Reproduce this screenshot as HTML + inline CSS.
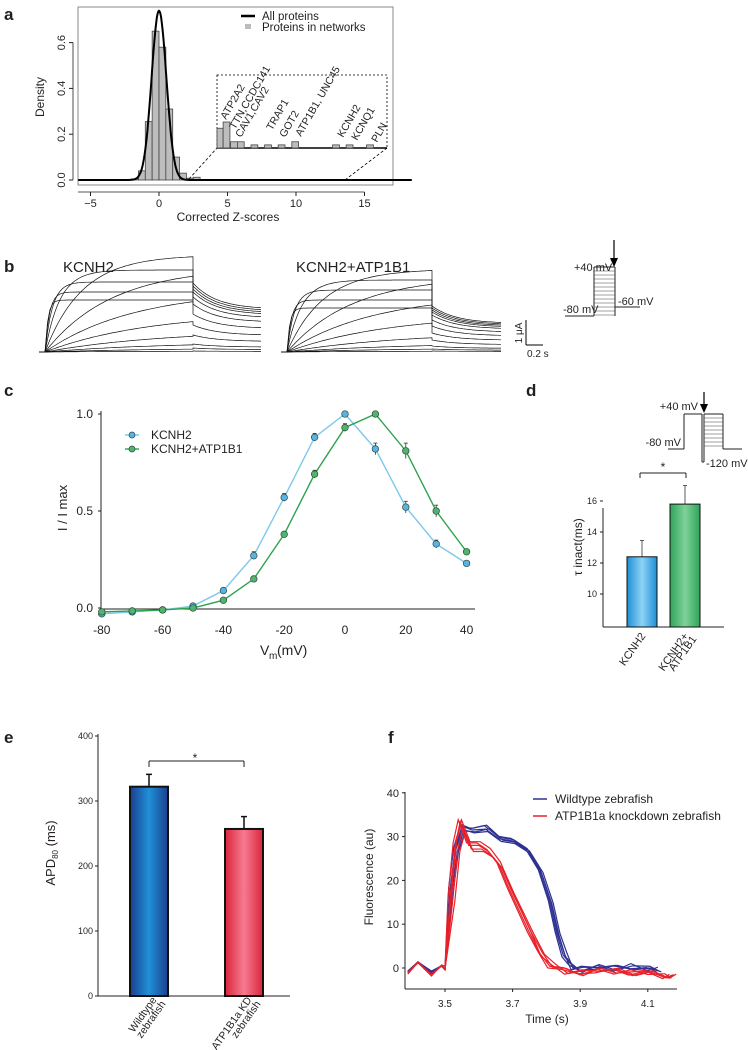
<!DOCTYPE html>
<html><head><meta charset="utf-8">
<style>
html,body{margin:0;padding:0;background:#fff;}
svg{display:block;}
text{font-family:"Liberation Sans Narrow","Liberation Sans",sans-serif;fill:#231f20;}
.lbl{font-family:"Liberation Sans",sans-serif;font-weight:bold;font-size:17px;}
</style></head>
<body>
<svg id="fig" width="748" height="1050" viewBox="0 0 748 1050" xmlns="http://www.w3.org/2000/svg">
<defs>
<linearGradient id="gBlueD" x1="0" x2="1"><stop offset="0" stop-color="#1f8fd6"/><stop offset="0.5" stop-color="#8dd3f5"/><stop offset="1" stop-color="#1f8fd6"/></linearGradient>
<linearGradient id="gGreenD" x1="0" x2="1"><stop offset="0" stop-color="#2fa55a"/><stop offset="0.5" stop-color="#7fd19a"/><stop offset="1" stop-color="#2fa55a"/></linearGradient>
<linearGradient id="gBlueE" x1="0" x2="1"><stop offset="0" stop-color="#1b3f8f"/><stop offset="0.5" stop-color="#1f90d6"/><stop offset="1" stop-color="#1b3f8f"/></linearGradient>
<linearGradient id="gRedE" x1="0" x2="1"><stop offset="0" stop-color="#d8263a"/><stop offset="0.5" stop-color="#f77a90"/><stop offset="1" stop-color="#d8263a"/></linearGradient>
</defs>
<text class="lbl" x="4" y="20">a</text>
<text class="lbl" x="4" y="272">b</text>
<text class="lbl" x="4" y="396">c</text>
<text class="lbl" x="526" y="396">d</text>
<text class="lbl" x="4" y="743">e</text>
<text class="lbl" x="388" y="743">f</text>
<g id="pa"></g>
<g id="pb"></g>
<g id="pc"></g>
<g id="pd"></g>
<g id="pe"></g>
<g id="pf"></g>
</svg>
<script>
// ---------- data ----------
const histBinStart = [-2,-1.5,-1,-0.5,0,0.5,1,1.5,2,2.5];
const histDensity = [0.005,0.04,0.255,0.65,0.58,0.31,0.10,0.03,0.008,0.012];
const curveSd = 0.54;
const insetBinStart = [4.25,4.7,5.25,5.75,6.75,7.75,8.75,9.75,12.75,13.75,15.25];
const insetDensity = [0.19,0.25,0.06,0.06,0.03,0.03,0.03,0.06,0.03,0.03,0.03];
const insetLabels = ["ATP2A2","TTN,CCDC141","CAV1,CAV2","TRAP1","GOT2","ATP1B1, UNC45","KCNH2","KCNQ1","PLN"];
const aXTicks = [-5,0,5,10,15];
const aYTicks = [0,0.2,0.4,0.6];

const stepAmpK = [52,60,70,82,97,85,62,40,22,10,4,1];
const stepAmpA = [44,52,62,72,83,76,58,38,20,9,4,1];
const stepTau = [0.02,0.03,0.05,0.1,0.25,0.45,0.6,0.7,0.8,0.8,0.8,0.8];
const tailK = [69,66,63,60,55,48,38,27,17,8,4,1];
const tailA = [46,44,42,40,37,32,26,19,12,6,3,1];

const vm = [-80,-70,-60,-50,-40,-30,-20,-10,0,10,20,30,40];
const iKCNH2 = [-0.03,-0.02,-0.01,0.01,0.09,0.27,0.57,0.88,1.0,0.82,0.52,0.33,0.23];
const eKCNH2 = [0,0,0,0.01,0.01,0.02,0.02,0.02,0,0.03,0.03,0.02,0.01];
const iATP = [-0.02,-0.015,-0.01,0.0,0.04,0.15,0.38,0.69,0.93,1.0,0.81,0.50,0.29];
const eATP = [0,0,0,0,0,0.01,0.01,0.02,0.02,0,0.04,0.03,0.01];
const cXTicks = [-80,-60,-40,-20,0,20,40];
const cYTicks = [0,0.5,1.0];

const dGroups = ["KCNH2","KCNH2+ ATP1B1"];
const dValues = [12.4,15.8];
const dErrors = [1.05,1.2];
const dYTicks = [10,12,14,16];

const eGroups = ["Wildtype zebrafish","ATP1B1a KD zebrafish"];
const eValues = [322,257];
const eErrors = [19,19];
const eYTicks = [0,100,200,300,400];

const fXTicks = [3.5,3.7,3.9,4.1];
const fYTicks = [0,10,20,30,40];
const wtTime = [3.39,3.42,3.46,3.49,3.50,3.515,3.53,3.55,3.58,3.62,3.66,3.70,3.74,3.78,3.81,3.83,3.85,3.87,3.90,3.95,4.00,4.05,4.10,4.13];
const wtFluo = [-0.5,0.5,-0.3,0.2,0.5,18,27,31.5,32,31.5,29.5,29,27,22,15,8,3,0.5,-0.2,0.3,-0.3,0.2,-0.2,0];
const kdTime = [3.39,3.42,3.46,3.49,3.50,3.515,3.53,3.545,3.57,3.60,3.63,3.66,3.69,3.72,3.75,3.78,3.81,3.85,3.90,3.95,4.00,4.05,4.10,4.15,4.17];
const kdFluo = [-0.8,0.5,-1,0.3,0.5,16,28,32.5,28,28,26.5,23.5,18,13,8,3,0.5,-0.5,-1,-0.5,-1,-1.2,-1,-1.5,-2];
const wtShift = [0,0.006,-0.004,0.01,0.003];
const wtGain = [1,0.98,1.02,0.99,1.01];
const kdShift = [0,0.008,-0.006,0.014,0.004];
const kdGain = [1,0.97,1.02,0.95,1.03];
const wiggle = [0.6,-0.8,0.4,-0.3,0.9,-0.6,0.2,-0.9,0.5,-0.2,0.7,-0.5,0.3,-0.7,0.8,-0.4,0.1,-0.6,0.6,-0.3,0.4,-0.8,0.5,-0.2,0.3];

// ---------- helpers ----------
const NS="http://www.w3.org/2000/svg";
function mk(parent,tag,attrs,txt){const e=document.createElementNS(NS,tag);for(const k in attrs)e.setAttribute(k,attrs[k]);if(txt!==undefined)e.textContent=txt;parent.appendChild(e);return e;}
function line(p,x1,y1,x2,y2,st,w,dash){const e=mk(p,'line',{x1,y1,x2,y2,stroke:st||'#231f20','stroke-width':w||1});if(dash)e.setAttribute('stroke-dasharray',dash);return e;}

// ---------- panel a ----------
(function(){
const g=document.getElementById('pa');
const X=z=>159+z*13.7, Y=d=>180-d*229;
mk(g,'rect',{x:78,y:7,width:315,height:178,fill:'none',stroke:'#888','stroke-width':1});
for(let i=0;i<histBinStart.length;i++){
 const r=mk(g,'rect',{x:X(histBinStart[i]),y:Y(histDensity[i]),width:13.7*0.5,height:180-Y(histDensity[i]),fill:'#bdbdbd',stroke:'#444','stroke-width':0.8});
 
 
}
let d='';
for(let z=-5.9;z<=18.5;z+=0.05){const v=Math.exp(-z*z/(2*curveSd*curveSd))/(curveSd*Math.sqrt(2*Math.PI));d+=(d?'L':'M')+X(z).toFixed(1)+','+Y(v).toFixed(1);}
const c=mk(g,'path',{d,fill:'none',stroke:'#000','stroke-width':2});


// axes
line(g,78,192,X(15),192,'#231f20',0.8);
aXTicks.forEach(t=>{line(g,X(t),192,X(t),196);const e=mk(g,'text',{x:X(t),y:207,'font-size':11,'text-anchor':'middle'},String(t).replace('-','\u2212'));});
line(g,73,Y(0),73,Y(0.6),'#231f20',0.8);
aYTicks.forEach(t=>{line(g,69,Y(t),73,Y(t));const e=mk(g,'text',{x:0,y:0,'font-size':11,'text-anchor':'middle',transform:`translate(65,${Y(t)}) rotate(-90)`},t.toFixed(1));});
let e=mk(g,'text',{x:0,y:0,'font-size':12,'text-anchor':'middle',transform:'translate(44,97) rotate(-90)'},'Density');

e=mk(g,'text',{x:228,y:221,'font-size':12,'text-anchor':'middle'},'Corrected Z-scores');

// legend
line(g,241,16,255,16,'#000',2.5);
mk(g,'rect',{x:245,y:24,width:6,height:5,fill:'#bdbdbd'});
e=mk(g,'text',{x:262,y:20,'font-size':11.5},'All proteins');
e=mk(g,'text',{x:262,y:31,'font-size':11.5},'Proteins in networks');
// inset
mk(g,'rect',{x:217,y:75,width:170,height:73,fill:'#fff',stroke:'#000','stroke-width':0.8,'stroke-dasharray':'2,2'});
line(g,189,179,217,148,'#000',0.8,'3,2');
line(g,345,180,387,148,'#000',0.8,'3,2');
const IX=z=>217+(z-4.25)*13.6, IY=dd=>148-dd*104;
line(g,217,148,387,148,'#000',1.6);
for(let i=0;i<insetBinStart.length;i++){
 const w=(i===0)?insetBinStart[1]-insetBinStart[0]:0.5;
 const r=mk(g,'rect',{x:IX(insetBinStart[i]),y:IY(insetDensity[i]),width:w*13.6,height:148-IY(insetDensity[i]),fill:'#bdbdbd',stroke:'#444','stroke-width':0.8});
 
 
}
const lp=[[226,120],[235,130],[241,138],[272,131],[285,138],[301,137],[343,138],[357,141],[377,143]];
insetLabels.forEach((s,i)=>{const t=mk(g,'text',{x:0,y:0,'font-size':10.5,transform:`translate(${lp[i][0]},${lp[i][1]}) rotate(-60)`},s);});
})();

// ---------- panel b ----------
(function(){
const g=document.getElementById('pb');
function traces(x0,xs,x1,amp,tail,label,lx){
 const base=352;
 for(let i=0;i<amp.length;i++){
  let d=`M${x0-6},${base}L${x0},${base}`;
  const L=xs-x0;
  for(let k=0;k<=60;k++){const t=k/60;const v=amp[i]*(1-Math.exp(-t/stepTau[i]));d+=`L${(x0+t*L).toFixed(1)},${(base-v).toFixed(1)}`;}
  const R=x1-xs;
  for(let k=0;k<=40;k++){const t=k/40;const v=tail[i]*(0.62+0.38*Math.exp(-t/0.35));d+=`L${(xs+t*R).toFixed(1)},${(base-v).toFixed(1)}`;}
  const p=mk(g,'path',{d,fill:'none',stroke:'#111','stroke-width':0.7});
  
  
 }
 const t=mk(g,'text',{x:lx,y:272,'font-size':15},label);
 
}
traces(45,193,261,stepAmpK,tailK,'KCNH2',63);
traces(287,432,501,stepAmpA,tailA,'KCNH2+ATP1B1',296);
line(g,526,320,526,345,'#000',1);line(g,526,345,543,345,'#000',1);
let e=mk(g,'text',{x:0,y:0,'font-size':10,'text-anchor':'middle',transform:'translate(522,333) rotate(-90)'},'1 μA');
e=mk(g,'text',{x:527,y:357,'font-size':10},'0.2 s');
// protocol
line(g,565,316,594,316);line(g,594,267,594,316);line(g,615,267,615,316);line(g,594,267,615,267);
for(let y=271;y<316;y+=4)line(g,594,y,615,y,'#444',0.6);
line(g,615,307,640,307);
line(g,614,240,614,262,'#000',1.2);mk(g,'path',{d:'M610,258L618,258L614,267Z',fill:'#000'});
e=mk(g,'text',{x:574,y:271,'font-size':11},'+40 mV');
e=mk(g,'text',{x:563,y:313,'font-size':11},'-80 mV');
e=mk(g,'text',{x:618,y:305,'font-size':11},'-60 mV');
})();

// ---------- panel c ----------
(function(){
const g=document.getElementById('pc');
const X=v=>345+v*3.04, Y=i=>608-i*194;
line(g,101,411,101,609,'#231f20',1);line(g,101,609,475,609,'#231f20',1);
cXTicks.forEach(t=>{const e=mk(g,'text',{x:X(t),y:634,'font-size':12,'text-anchor':'middle'},String(t));});
cYTicks.forEach(t=>{line(g,98,Y(t),101,Y(t));const e=mk(g,'text',{x:93,y:Y(t)+4,'font-size':12,'text-anchor':'end'},t.toFixed(1));});
let e=mk(g,'text',{x:0,y:0,'font-size':13,'text-anchor':'middle',transform:'translate(67,508) rotate(-90)'},'I / I max');
e=mk(g,'text',{x:260,y:655,'font-size':14},'V');
mk(g,'text',{x:269,y:659,'font-size':10},'m');mk(g,'text',{x:277,y:655,'font-size':14},'(mV)');
function series(vals,errs,color,fill,name){
 const p=mk(g,'polyline',{points:vals.map((v,i)=>X(vm[i])+','+Y(v)).join(' '),fill:'none',stroke:color,'stroke-width':1.4});
 
 vals.forEach((v,i)=>{
  if(errs[i]>0){line(g,X(vm[i]),Y(v+errs[i]),X(vm[i]),Y(v-errs[i]),'#333',0.8);line(g,X(vm[i])-2,Y(v+errs[i]),X(vm[i])+2,Y(v+errs[i]),'#333',0.8);}
  const c=mk(g,'circle',{cx:X(vm[i]),cy:Y(v),r:3.3,fill:fill,stroke:'#2b4a3a','stroke-width':0.7});
  
 });
}
series(iKCNH2,eKCNH2,'#7cc8ec','#56b4e6','kcnh2');
series(iATP,eATP,'#2ea24f','#4fb56e','kcnh2-atp1b1');
line(g,125,435,139,435,'#7cc8ec',1.4);mk(g,'circle',{cx:132,cy:435,r:3,fill:'#56b4e6',stroke:'#2b4a3a','stroke-width':0.7});
line(g,125,449,139,449,'#2ea24f',1.4);mk(g,'circle',{cx:132,cy:449,r:3,fill:'#4fb56e',stroke:'#2b4a3a','stroke-width':0.7});
e=mk(g,'text',{x:151,y:439,'font-size':12},'KCNH2');
e=mk(g,'text',{x:151,y:453,'font-size':12},'KCNH2+ATP1B1');
})();

// ---------- panel d ----------
(function(){
const g=document.getElementById('pd');
const Y=v=>501-(v-16)*15.5;
const bx=[627,670], bw=30, fills=['url(#gBlueD)','url(#gGreenD)'];
line(g,603,508,603,627);line(g,603,627,724,627);
dYTicks.forEach(t=>{line(g,600,Y(t),603,Y(t));const e=mk(g,'text',{x:597,y:Y(t)+3,'font-size':9,'text-anchor':'end'},String(t));});
dValues.forEach((v,i)=>{
 line(g,bx[i]+bw/2,Y(v),bx[i]+bw/2,Y(v+dErrors[i]),'#333',0.8);line(g,bx[i]+bw/2-2,Y(v+dErrors[i]),bx[i]+bw/2+2,Y(v+dErrors[i]),'#333',0.8);
 const r=mk(g,'rect',{x:bx[i],y:Y(v),width:bw,height:627-Y(v),fill:fills[i],stroke:'#111','stroke-width':1});
 
 const parts=dGroups[i].split(' ');
 parts.forEach((s,j)=>{const t=mk(g,'text',{x:0,y:0,'font-size':11,'text-anchor':'end',transform:`translate(${bx[i]+bw/2+4+j*8},${636+j*3}) rotate(-55)`},s);});
});
line(g,640,473,686,473);line(g,640,473,640,478);line(g,686,473,686,478);
mk(g,'text',{x:663,y:471,'font-size':12,'text-anchor':'middle'},'*');
let e=mk(g,'text',{x:0,y:0,'font-size':12,'text-anchor':'middle',transform:'translate(582,547) rotate(-90)'},'τ inact(ms)');
// protocol
line(g,668,449,684,449);line(g,684,449,684,414);line(g,684,414,702,414);line(g,702,414,702,462);line(g,702,462,704,462);
line(g,704,414,704,462);line(g,704,414,723,414);line(g,723,414,723,449);line(g,723,449,742,449);
for(let y=418;y<449;y+=4)line(g,704,y,723,y,'#444',0.6);
line(g,704,392,704,406,'#000',1.2);mk(g,'path',{d:'M700,404L708,404L704,413Z',fill:'#000'});
e=mk(g,'text',{x:698,y:410,'font-size':11,'text-anchor':'end'},'+40 mV');
e=mk(g,'text',{x:681,y:446,'font-size':11,'text-anchor':'end'},'-80 mV');
e=mk(g,'text',{x:706,y:467,'font-size':11},'-120 mV');
})();

// ---------- panel e ----------
(function(){
const g=document.getElementById('pe');
const Y=v=>996-v*0.65;
const bx=[130,225], bw=38, fills=['url(#gBlueE)','url(#gRedE)'];
line(g,98,734,98,996);line(g,98,996,290,996);
eYTicks.forEach(t=>{line(g,95,Y(t),98,Y(t));const e=mk(g,'text',{x:93,y:Y(t)+3,'font-size':9,'text-anchor':'end'},String(t));});
eValues.forEach((v,i)=>{
 line(g,bx[i]+bw/2,Y(v),bx[i]+bw/2,Y(v+eErrors[i]),'#111',1.5);line(g,bx[i]+bw/2-3,Y(v+eErrors[i]),bx[i]+bw/2+3,Y(v+eErrors[i]),'#111',1.5);
 const r=mk(g,'rect',{x:bx[i],y:Y(v),width:bw,height:996-Y(v),fill:fills[i],stroke:'#111','stroke-width':2});
 
 const parts=eGroups[i].split(/ (?=zebrafish)/);
 parts.forEach((s,j)=>{const t=mk(g,'text',{x:0,y:0,'font-size':10.5,'text-anchor':'end',transform:`translate(${bx[i]+bw/2+8+j*9},${1000+j*4}) rotate(-55)`},s);});
});
line(g,149,761,244,761);line(g,149,761,149,767);line(g,244,761,244,767);
mk(g,'text',{x:195,y:762,'font-size':12,'text-anchor':'middle'},'*');
let e=mk(g,'text',{x:0,y:0,'font-size':13,'text-anchor':'middle',transform:'translate(55,853) rotate(-90)'},'');

mk(e,'tspan',{},'APD');mk(e,'tspan',{'font-size':8,dy:3},'80');mk(e,'tspan',{dy:-3},' (ms)');
})();

// ---------- panel f ----------
(function(){
const g=document.getElementById('pf');
const X=t=>445+(t-3.5)*338, Y=v=>968-v*4.38;
line(g,405,792,405,989);line(g,405,989,677,989);
fYTicks.forEach(t=>{line(g,402,Y(t),405,Y(t));const e=mk(g,'text',{x:399,y:Y(t)+4,'font-size':11,'text-anchor':'end'},String(t));});
fXTicks.forEach(t=>{line(g,X(t),989,X(t),992);const e=mk(g,'text',{x:X(t),y:1007,'font-size':10,'text-anchor':'middle'},t.toFixed(1));});
let e=mk(g,'text',{x:547,y:1023,'font-size':12,'text-anchor':'middle'},'Time (s)');
e=mk(g,'text',{x:0,y:0,'font-size':12,'text-anchor':'middle',transform:'translate(373,877) rotate(-90)'},'Fluorescence (au)');
function draw(T,V,shift,gain,color,name){
 shift.forEach((s,k)=>{
  const pts=T.map((t,i)=>{const w=(V[i]>3&&V[i]<30)?0:wiggle[(i+k*3)%wiggle.length]*(k%2?1:-1);return X(t+(V[i]>3||i>5?s:0))+','+Y(V[i]*gain[k]+w);}).join(' ');
  const p=mk(g,'polyline',{points:pts,fill:'none',stroke:color,'stroke-width':1.2});
  
 });
}
draw(wtTime,wtFluo,wtShift,wtGain,'#2e3192','wildtype-trace');
draw(kdTime,kdFluo,kdShift,kdGain,'#e8202a','knockdown-trace');
line(g,533,799,547,799,'#2e3192',1.5);line(g,533,816,547,816,'#e8202a',1.5);
e=mk(g,'text',{x:555,y:803,'font-size':12},'Wildtype zebrafish');
e=mk(g,'text',{x:555,y:820,'font-size':12},'ATP1B1a knockdown zebrafish');
})();
</script>
</body></html>
